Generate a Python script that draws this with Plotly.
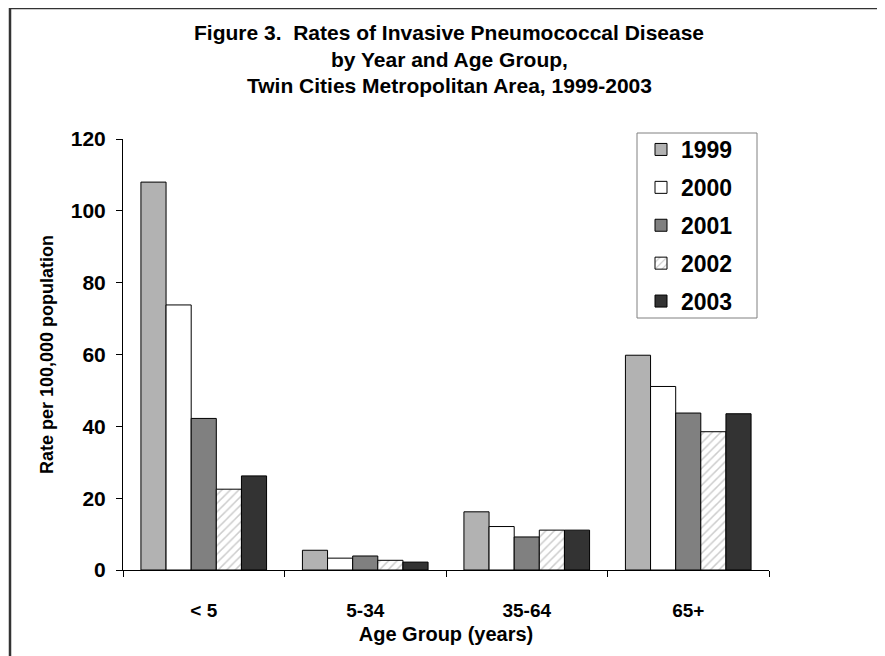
import plotly.graph_objects as go

age_groups = ["< 5", "5-34", "35-64", "65+"]
years = ["1999", "2000", "2001", "2002", "2003"]
rate_1999 = [108.0, 5.5, 16.2, 59.8]
rate_2000 = [73.8, 3.3, 12.1, 51.1]
rate_2001 = [42.2, 3.9, 9.2, 43.7]
rate_2002 = [22.5, 2.7, 11.1, 38.5]
rate_2003 = [26.2, 2.2, 11.1, 43.5]
y_ticks = [0, 20, 40, 60, 80, 100, 120]
title_lines = ["Figure 3.  Rates of Invasive Pneumococcal Disease",
               "by Year and Age Group,",
               "Twin Cities Metropolitan Area, 1999-2003"]

series = [rate_1999, rate_2000, rate_2001, rate_2002, rate_2003]
fills = ["#b2b2b2", "#ffffff", "#808080", "#ffffff", "#333333"]
FONT = "Arial, Liberation Sans, sans-serif"

# page body has an 8px margin; work in window pixel coordinates
OFF = 8
W, H = 885 - OFF, 656 - OFF
PL, PR, PT, PB = 123, 769, 139, 570  # plot area in window px
L, T = PL - OFF, PT - OFF
pw, ph = PR - PL, PB - PT
R, B = W - L - pw, H - T - ph


def px2x(X):
    return (X - PL) / pw


def px2y(Y):
    return (PB - Y) / ph


fig = go.Figure()
for yr, vals, col in zip(years, series, fills):
    marker = dict(color=col, line=dict(color="#000000", width=1))
    if yr == "2002":
        marker["pattern"] = dict(shape="/", fgcolor="#9a9a9a", bgcolor="#ffffff",
                                 size=6, solidity=0.25)
    fig.add_trace(go.Bar(x=age_groups, y=vals, name=yr, marker=marker,
                         legendgroup=yr))

fig.update_layout(
    width=W, height=H,
    margin=dict(l=L, r=R, t=T, b=B, autoexpand=False),
    paper_bgcolor="white", plot_bgcolor="white",
    barmode="group", bargap=0.222, bargroupgap=0,
    font=dict(family=FONT, color="black"),
    xaxis=dict(
        showline=True, linecolor="black", linewidth=1,
        ticks="outside", tickson="boundaries", ticklen=6, tickcolor="black",
        tickfont=dict(size=19, family=FONT, color="black", weight="bold"),
        ticklabelstandoff=23,
        title=dict(text="Age Group (years)",
                   font=dict(size=20, family=FONT, weight="bold"), standoff=7),
        showgrid=False,
    ),
    yaxis=dict(
        range=[0, 120], tickvals=y_ticks,
        showline=True, linecolor="black", linewidth=1,
        ticks="outside", ticklen=6, tickcolor="black",
        tickfont=dict(size=21, family=FONT, color="black", weight="bold"),
        ticklabelstandoff=6,
        title=dict(text="Rate per 100,000 population",
                   font=dict(size=18, family=FONT, weight="bold"), standoff=12),
        showgrid=False, zeroline=False,
    ),
    legend=dict(
        x=px2x(641), y=px2y(128), xanchor="left", yanchor="top",
        borderwidth=0, bgcolor="rgba(0,0,0,0)",
        font=dict(size=23, family=FONT, color="black", weight="bold"),
        traceorder="grouped", tracegroupgap=5,
    ),
    showlegend=True,
)

# title lines
for line, yc in zip(title_lines, [33, 59, 85]):
    fig.add_annotation(text=line, xref="paper", yref="paper",
                       x=px2x(449), y=px2y(yc), xanchor="center", yanchor="middle",
                       showarrow=False, borderpad=0,
                       font=dict(size=21, family=FONT, color="black", weight="bold"))

# legend frame
fig.add_shape(type="rect", xref="paper", yref="paper",
              x0=px2x(637), x1=px2x(757), y0=px2y(318), y1=px2y(133),
              line=dict(color="#808080", width=1), fillcolor="rgba(0,0,0,0)")

# outer frame (left and top edges)
fig.add_shape(type="line", xref="paper", yref="paper",
              x0=px2x(10), x1=px2x(10), y0=px2y(700), y1=px2y(7.5),
              line=dict(color="#333333", width=2.5))
fig.add_shape(type="line", xref="paper", yref="paper",
              x0=px2x(10), x1=px2x(900), y0=px2y(8), y1=px2y(8),
              line=dict(color="#333333", width=2.5))

fig.write_html("out.html")
